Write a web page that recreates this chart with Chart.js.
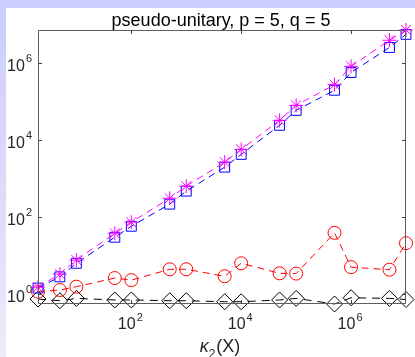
<!DOCTYPE html>
<html><head><meta charset="utf-8">
<script src="https://cdn.jsdelivr.net/npm/chart.js@4"></script>
<style>
html,body{margin:0;padding:0;width:415px;height:357px;overflow:hidden;}
body{background:linear-gradient(to bottom,#ccccff 0%,#dcdcfa 55%,#ececfb 100%);position:relative;}
#wrap{position:absolute;left:6px;top:8px;width:409px;height:349px;background:#fff;}
canvas{display:block;}
</style></head><body>
<div id="wrap"><canvas id="c" width="409" height="349"></canvas></div>
<script>
const titleText = 'pseudo-unitary, p = 5, q = 5';
const kappa = [2, 5, 10, 50, 100, 500, 1e3, 5e3, 1e4, 5e4, 1e5, 5e5, 1e6, 5e6, 1e7];
const magentaStar = [1.5, 3.3, 7.6, 38, 74, 310, 640, 2700, 5800, 33000, 81000, 2.8e5, 8.4e5, 4.0e6, 7.4e6];
const blueSquare = [1.43, 2.8, 6.3, 30, 58, 218, 475, 2000, 4300, 24500, 60000, 2.0e5, 5.8e5, 2.6e6, 5.7e6];
const redCircle = [1.15, 1.27, 1.55, 2.6, 2.3, 4.4, 4.4, 2.9, 6.3, 3.45, 3.4, 39, 5.0, 4.3, 21];
const blackDiamond = [0.74, 0.67, 0.77, 0.70, 0.70, 0.67, 0.67, 0.63, 0.63, 0.70, 0.77, 0.55, 0.80, 0.77, 0.72];
const xTickExp = [2, 4, 6];
const yTickExp = [0, 2, 4, 6];
const xRange = [2, 1e7];
const yRange = [0.55, 7.4e6];

const pts = arr => kappa.map((k, i) => ({x: k, y: arr[i]}));
const base = {borderWidth: 1, borderDash: [7, 5], pointBackgroundColor: 'rgba(0,0,0,0)', pointBorderWidth: 1, clip: false, tension: 0, fill: false};

const FONT = '"Liberation Sans", Arial, Helvetica, sans-serif';

const axesPlugin = {
  id: 'matlabAxes',
  afterDraw(chart) {
    const ctx = chart.ctx, a = chart.chartArea;
    const xs = chart.scales.x, ys = chart.scales.y;
    ctx.save();
    ctx.strokeStyle = '#5e5e5e';
    ctx.lineWidth = 1;
    ctx.setLineDash([]);
    ctx.beginPath();
    ctx.moveTo(a.left + 0.5, a.top + 0.5); ctx.lineTo(a.right - 0.5, a.top + 0.5);
    ctx.lineTo(a.right - 0.5, a.bottom - 0.5); ctx.lineTo(a.left + 0.5, a.bottom - 0.5);
    ctx.closePath();
    ctx.stroke();
    const tl = 4;
    ctx.strokeStyle = '#444';
    ctx.beginPath();
    xTickExp.forEach(e => {
      const px = Math.round(xs.getPixelForValue(Math.pow(10, e))) + 0.5;
      ctx.moveTo(px, a.bottom); ctx.lineTo(px, a.bottom - tl);
      ctx.moveTo(px, a.top); ctx.lineTo(px, a.top + tl);
    });
    yTickExp.forEach(e => {
      const py = Math.round(ys.getPixelForValue(Math.pow(10, e))) + 0.5;
      ctx.moveTo(a.left, py); ctx.lineTo(a.left + tl, py);
      ctx.moveTo(a.right, py); ctx.lineTo(a.right - tl, py);
    });
    ctx.stroke();
    ctx.fillStyle = '#262626';
    ctx.textBaseline = 'alphabetic';
    const bigF = '16px ' + FONT, supF = '11px ' + FONT;
    yTickExp.forEach(e => {
      const py = ys.getPixelForValue(Math.pow(10, e));
      ctx.font = supF; const ws = ctx.measureText(String(e)).width;
      ctx.font = bigF; const wb = ctx.measureText('10').width;
      const right = a.left - 6;
      ctx.textAlign = 'left';
      ctx.font = bigF; ctx.fillText('10', right - ws - wb - 1, py + 8);
      ctx.font = supF; ctx.fillText(String(e), right - ws, py - 1);
    });
    xTickExp.forEach(e => {
      const px = xs.getPixelForValue(Math.pow(10, e));
      ctx.font = supF; const ws = ctx.measureText(String(e)).width;
      ctx.font = bigF; const wb = ctx.measureText('10').width;
      const left = px - (wb + ws + 1) / 2 - 1;
      ctx.textAlign = 'left';
      ctx.font = bigF; ctx.fillText('10', left, a.bottom + 25);
      ctx.font = supF; ctx.fillText(String(e), left + wb + 1, a.bottom + 17);
    });
    ctx.font = '18px ' + FONT;
    ctx.textAlign = 'center';
    ctx.fillStyle = '#000';
    ctx.fillText(titleText, (a.left + a.right) / 2 - 1, 18);
    ctx.fillStyle = '#262626';
    ctx.font = 'italic 18px ' + FONT;
    const wk = ctx.measureText('\u03BA').width;
    ctx.font = '18px ' + FONT;
    const wp = ctx.measureText('(X)').width;
    ctx.font = '12px ' + FONT;
    const w2 = ctx.measureText('2').width;
    const tot = wk + w2 + wp + 1;
    const sx = (a.left + a.right) / 2 - tot / 2 - 2;
    ctx.textAlign = 'left';
    ctx.font = 'italic 18px ' + FONT;
    ctx.fillText('\u03BA', sx, a.bottom + 48);
    ctx.font = '12px ' + FONT;
    ctx.fillText('2', sx + wk, a.bottom + 54);
    ctx.font = '18px ' + FONT;
    ctx.fillText('(X)', sx + wk + w2 + 1, a.bottom + 48);
    ctx.restore();
  }
};

new Chart(document.getElementById('c'), {
  type: 'line',
  data: {
    datasets: [
      Object.assign({}, base, {label: 'star', data: pts(magentaStar), borderColor: '#ff00ff', pointBorderColor: '#ff00ff', pointStyle: 'star', pointRadius: 7}),
      Object.assign({}, base, {label: 'square', data: pts(blueSquare), borderColor: '#0000ff', pointBorderColor: '#0000ff', pointStyle: 'rect', pointRadius: 7}),
      Object.assign({}, base, {label: 'circle', data: pts(redCircle), borderColor: '#ff0000', pointBorderColor: '#ff0000', pointStyle: 'circle', pointRadius: 6.5}),
      Object.assign({}, base, {label: 'diamond', data: pts(blackDiamond), borderColor: '#000000', pointBorderColor: '#000000', pointStyle: 'rectRot', pointRadius: 8, borderDash: [8, 6]})
    ]
  },
  options: {
    responsive: false,
    animation: false,
    devicePixelRatio: 1,
    layout: {padding: {left: 32, top: 22, right: 6, bottom: 53}},
    scales: {
      x: {type: 'logarithmic', min: xRange[0], max: xRange[1], display: false},
      y: {type: 'logarithmic', min: yRange[0], max: yRange[1], display: false}
    },
    plugins: {legend: {display: false}, tooltip: {enabled: false}, title: {display: false}},
    events: []
  },
  plugins: [axesPlugin]
});
</script>
</body></html>
